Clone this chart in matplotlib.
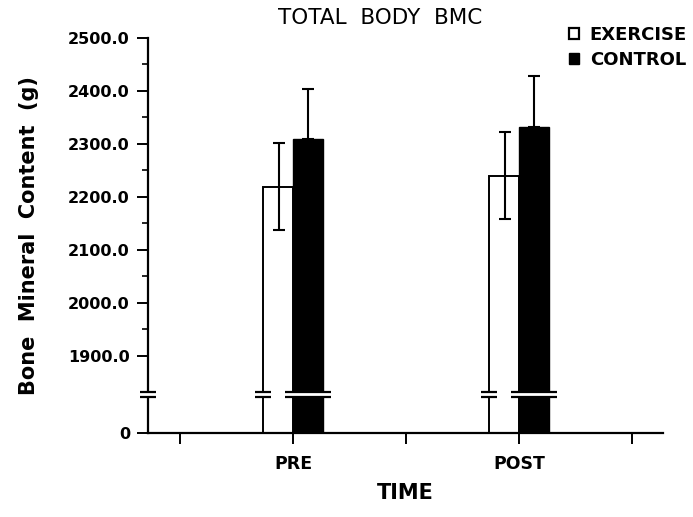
import numpy as np
import matplotlib
matplotlib.use("Agg")
import matplotlib.pyplot as plt
from matplotlib.patches import Patch

PLOT_FILE = "out.png"

times = ["PRE", "POST"]
exercise_mean = [2219, 2240]
exercise_sd = [82, 82]
control_mean = [2309, 2332]
control_sd = [95, 96]

y_ticks = [0, 1900, 2000, 2100, 2200, 2300, 2400, 2500]
y_tick_labels = ["0", "1900.0", "2000.0", "2100.0", "2200.0", "2300.0", "2400.0", "2500.0"]

# broken y axis: everything under SPLIT is squeezed into a short stub
SPLIT = 1815.0
ZERO_AT = 1754.6

def __fwd(v):
  v = np.asarray(v, dtype=float)
  return np.where(v >= SPLIT, v, ZERO_AT + v * (SPLIT - ZERO_AT) / SPLIT)

def __inv(v):
  v = np.asarray(v, dtype=float)
  return np.where(v >= SPLIT, v, (v - ZERO_AT) * SPLIT / (SPLIT - ZERO_AT))

plt.rcParams['font.family'] = ['DejaVu Sans']

fig = plt.figure(figsize=(6.93, 5.17), dpi=100)
ax = fig.add_axes([148/693, 84/517, 515/693, 395/517])
ax.set_yscale('function', functions=(__fwd, __inv))

x_pos = np.array([1.0, 3.0])
w = 0.265

ax.bar(x_pos - w/2, exercise_mean, width=w, color='white', edgecolor='black', linewidth=1.4, zorder=2)
ax.bar(x_pos + w/2, control_mean, width=w, color='black', edgecolor='black', linewidth=1.0, zorder=2)
ax.errorbar(x_pos - w/2 + 0.01, exercise_mean, yerr=exercise_sd, fmt='none', ecolor='black',
            elinewidth=1.5, capsize=4.0, capthick=1.5, zorder=3)
ax.errorbar(x_pos + w/2, control_mean, yerr=[np.zeros(2), control_sd], fmt='none', ecolor='black',
            elinewidth=1.5, capsize=4.4, capthick=1.5, zorder=1)

ax.set_xlim(-0.283, 4.274)
ax.set_ylim(0, 2500)

ax.set_xticks([0, 1, 2, 3, 4])
ax.set_xticklabels(["", times[0], "", times[1], ""], fontsize=12.5, fontweight='bold')
ax.set_yticks(y_ticks)
ax.set_yticklabels(y_tick_labels, fontsize=11.5, fontweight='bold')
ax.set_yticks([1950, 2050, 2150, 2250, 2350, 2450], minor=True)
ax.tick_params(axis='both', which='major', direction='out', length=8, width=1.4, pad=5)
ax.tick_params(axis='y', which='minor', direction='out', length=4, width=1.2)
ax.tick_params(axis='x', which='major', pad=8)

for s in ['top', 'right']:
  ax.spines[s].set_visible(False)
for s in ['left', 'bottom']:
  ax.spines[s].set_linewidth(1.6)

# break marks on the axis and across the bars
half = 8 / 113
x0 = ax.get_xlim()[0]
marks = [(x0 - half, x0 + half)]
for xc in x_pos:
  marks.append((xc - w - half, xc - w + half))
  marks.append((xc - half, xc + w + half))
for a, b in marks:
  ax.fill_between([a, b], [1823, 1823], [1832, 1832], color='white', zorder=5, clip_on=False, linewidth=0)
  ax.plot([a, b], [1823, 1823], color='black', lw=1.6, zorder=6, clip_on=False, solid_capstyle='butt')
  ax.plot([a, b], [1832, 1832], color='black', lw=1.6, zorder=6, clip_on=False, solid_capstyle='butt')

ax.set_ylabel("Bone  Mineral  Content  (g)", fontsize=15, fontweight='bold')
ax.yaxis.set_label_coords(-0.211, 0.5)
fig.text(405.5/693, 1 - 493/517, "TIME", ha='center', va='center', fontsize=15, fontweight='bold')
fig.text(380/693, 1 - 18/517, "TOTAL  BODY  BMC", ha='center', va='center', fontsize=15.5)

handles = [Patch(facecolor='white', edgecolor='black', linewidth=1.6),
           Patch(facecolor='black', edgecolor='black')]
fig.legend(handles, ["EXERCISE", "CONTROL"], loc='upper right', bbox_to_anchor=(687/693, 1 - 26/517),
           frameon=False, borderpad=0, borderaxespad=0, handlelength=0.55, handleheight=0.55,
           handletextpad=0.6, labelspacing=0.4, prop={'size': 13, 'weight': 'bold'})

plt.savefig(PLOT_FILE, dpi=100)
